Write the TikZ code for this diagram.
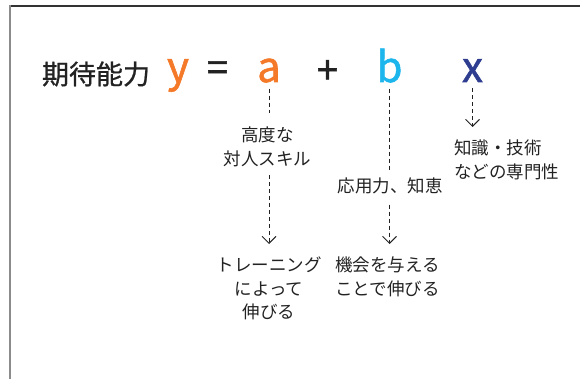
\documentclass[tikz,border=0pt]{standalone}
\usepackage{fontspec}
\setmainfont{Noto Sans CJK JP}
\newfontfamily\medfont{Noto Sans CJK JP}[FakeBold=1.4]
\newfontfamily\titlefont{Noto Sans CJK JP}[FakeBold=0.8]
\usetikzlibrary{arrows.meta}
\definecolor{orng}{HTML}{F47A2A}
\definecolor{cyn}{HTML}{1CB5EC}
\definecolor{nvy}{HTML}{2E3D8F}
\definecolor{txt}{HTML}{222222}
\begin{document}
\begin{tikzpicture}[x=1pt,y=-1pt,
  var/.style={font=\medfont\fontsize{42}{42}\selectfont, inner sep=0pt, anchor=base},
  opr/.style={font=\medfont\fontsize{38}{38}\selectfont, inner sep=0pt, anchor=center, text=txt},
  lbl/.style={font=\fontsize{17.5}{23.5}\selectfont, inner sep=0pt, text=txt},
  dl/.style={draw=txt, line width=0.9pt, dash pattern=on 4pt off 3pt},
  arr/.style={dl, -{Straight Barb[length=7pt,width=14pt,line width=0.9pt]}}]
\useasboundingbox (0,0) rectangle (580,379);
% frame
\draw[line width=1.3pt, draw=black!80] (9,6) -- (580,6);
\draw[line width=2pt, draw=black!45] (10,5.4) -- (10,379);
% formula
\node[font=\titlefont\fontsize{27}{27}\selectfont, inner sep=0pt, anchor=center, text=txt] (title) at (96,74) {期待能力};
\node[var, text=orng] (y) at (178,82) {y};
\node[opr] (eq) at (217.5,71.3) {=};
\node[var, text=orng] (a) at (269,82) {a};
\node[opr] (plus) at (327.5,72) {+};
\node[var, text=cyn] (b) at (389.5,82) {b};
\node[var, text=nvy] (x) at (472.5,82) {x};
% labels
\node[lbl, align=center, anchor=north] (l1) at (267.5,127) {高度な\\対人スキル};
\node[lbl, align=center, anchor=north] (l2) at (269,257) {トレーニング\\によって\\伸びる};
\node[lbl, anchor=north] (l3) at (390,178) {応用力、知恵};
\node[lbl, align=left, anchor=north west] (l4) at (335,257) {機会を与える\\ことで伸びる};
\node[lbl, align=left, anchor=north west] (l5) at (454,140) {知識・技術\\などの専門性};
% connectors
\draw[dl, shorten <=6pt, shorten >=14pt] (a.south) -- (a.south |- l1.north);
\draw[arr, shorten <=8pt, shorten >=13pt] (a.south |- l1.south) -- (a.south |- l2.north);
\draw[dl, shorten <=6pt, shorten >=8pt] (b.south) -- (b.south |- l3.north);
\draw[arr, shorten <=10pt, shorten >=13pt] (b.south |- l3.south) -- (b.south |- l4.north);
\draw[arr, shorten <=6pt, shorten >=13pt] (x.south) -- (x.south |- l5.north);
\end{tikzpicture}
\end{document}
